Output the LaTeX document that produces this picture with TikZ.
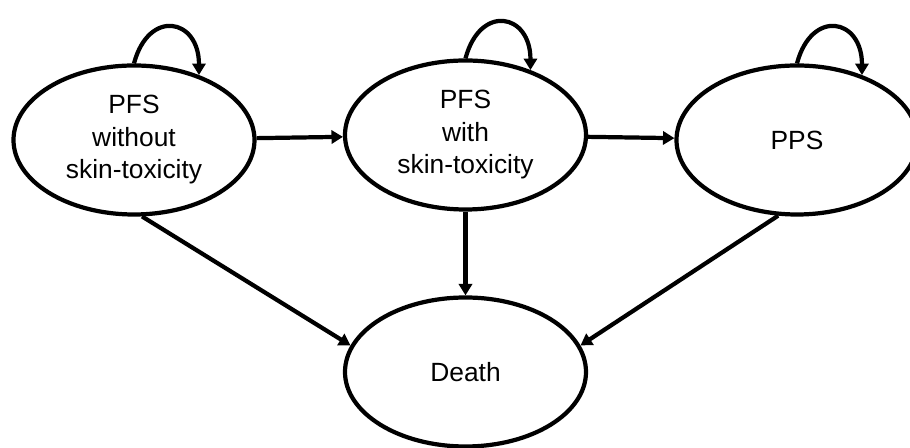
\documentclass[tikz,border=0pt]{standalone}
\usepackage{fontspec}
\setmainfont{Liberation Sans}
\usetikzlibrary{shapes.geometric, arrows.meta}

\begin{document}
\begin{tikzpicture}[->,>={Triangle[length=6.5pt,width=7.5pt]},line width=2.4pt,node distance=6.63cm,
    ellstate/.style={ellipse, draw, line width=2.4pt, inner sep=0pt, minimum width=4.82cm, minimum height=2.98cm,
        align=center, font=\fontsize{15}{18.5}\selectfont}]
                \useasboundingbox (-2.68,2.8) rectangle (15.52,-6.16);
                \node[ellstate] (0) {PFS\\without\\skin-toxicity};
                \node[ellstate] (1) [right of = 0, yshift=0.1cm] {PFS\\with\\skin-toxicity};
                \node[ellstate] (2) [right of = 1, yshift=-0.1cm] {PPS};
                \node[ellstate] (3) [node distance=4.74cm, below of = 1] {Death};
                \path
                (0.north) edge [out=75, in=90, looseness=2.2] (0.45)
                (1.north) edge [out=75, in=90, looseness=2.2] (1.45)
                (2.north) edge [out=75, in=90, looseness=2.2] (2.45)
                (0) edge (1)
                (1) edge (2)
                (0.-84) edge (3.167)
                (1) edge (3)
                (2.-104) edge (3.13)
                ;
            \end{tikzpicture}
\end{document}
